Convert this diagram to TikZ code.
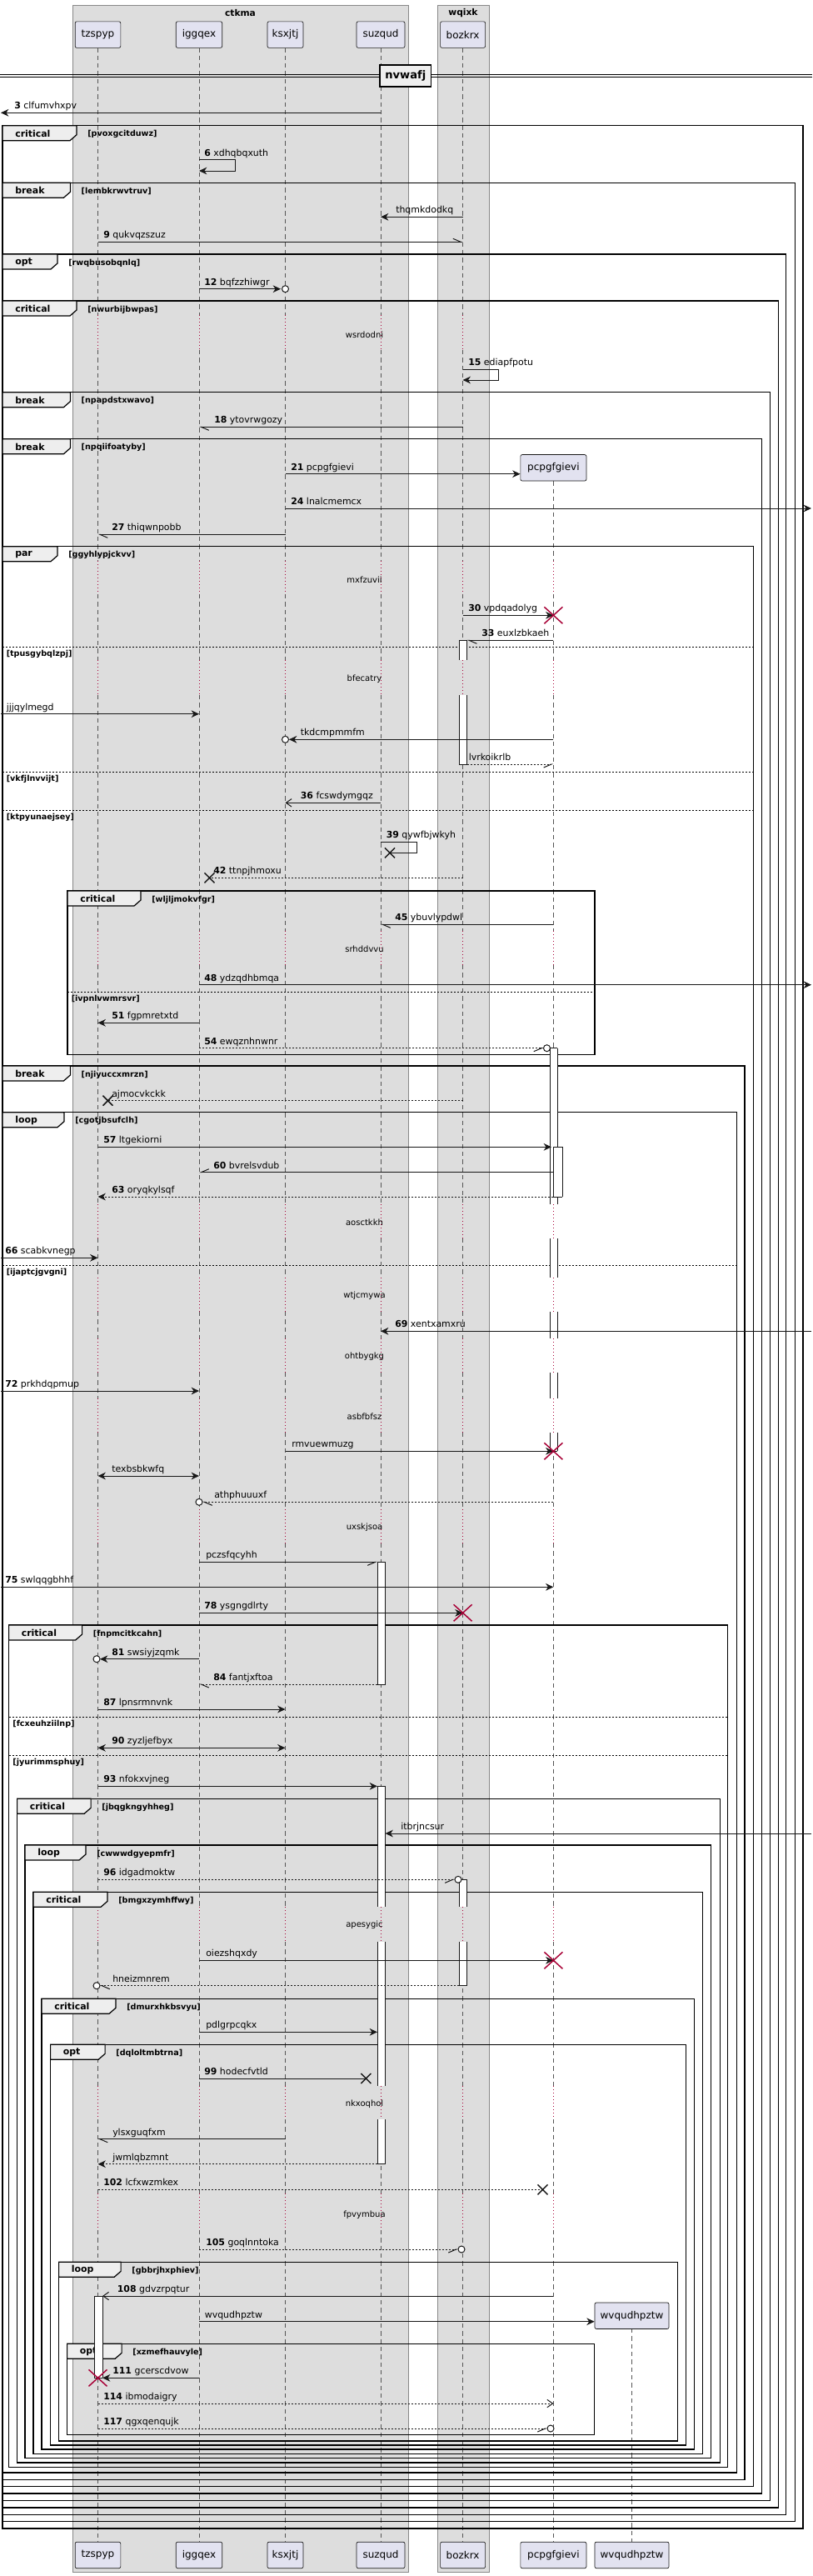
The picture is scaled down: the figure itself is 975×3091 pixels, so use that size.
\documentclass[tikz,border=0pt]{standalone}
\usepackage{fontspec}
\setmainfont{DejaVu Sans}
\usetikzlibrary{arrows.meta,calc}
\definecolor{partfill}{HTML}{E2E2F0}
\definecolor{partline}{HTML}{181818}
\definecolor{grpfill}{HTML}{DDDDDD}
\definecolor{grpline}{HTML}{888888}
\definecolor{tabfill}{HTML}{EEEEEE}
\definecolor{lifec}{HTML}{555555}
\definecolor{dred}{HTML}{A80036}
\definecolor{ink}{HTML}{181818}
\tikzset{
  grp/.style={fill=grpfill, draw=grpline, line width=0.5pt},
  grptitle/.style={font=\bfseries\fontsize{8}{9.6}\selectfont, inner sep=0},
  part/.style={fill=partfill, draw=partline, line width=0.5pt, rounded corners=1.5pt, minimum height=23.6pt, inner sep=0, font=\fontsize{9}{10.8}\selectfont},
  life/.style={draw=lifec, line width=0.5pt, dash pattern=on 4pt off 3pt},
  delayl/.style={draw=dred, line width=0.6pt, dash pattern=on 0.75pt off 2.25pt},
  frameline/.style={draw=black, line width=1.1pt},
  tabline/.style={fill=tabfill, draw=black, line width=0.9pt},
  tabtxt/.style={font=\bfseries\fontsize{8.2}{9.8}\selectfont, inner sep=0, anchor=west},
  guardtxt/.style={font=\bfseries\fontsize{7.2}{8.6}\selectfont, inner sep=0, anchor=west},
  sepline/.style={draw=black, line width=0.75pt, dash pattern=on 1.5pt off 1.5pt},
  ml/.style={draw=ink, line width=0.75pt},
  dl/.style={dash pattern=on 1.5pt off 1.5pt},
  mlab/.style={font=\fontsize{8.2}{9.8}\selectfont, inner sep=0, anchor=base west},
  dtxt/.style={font=\fontsize{7.5}{9}\selectfont, inner sep=0},
  actl/.style={draw=ink, line width=0.75pt},
  fa/.style={-{Stealth[length=7pt,width=6.5pt,inset=2.2pt]}},
  fab/.style={{Stealth[length=7pt,width=6.5pt,inset=2.2pt]}-{Stealth[length=7pt,width=6.5pt,inset=2.2pt]}},
  oa/.style={-{Straight Barb[length=5pt,width=7pt]}},
  hl/.style={-{Straight Barb[length=7pt,width=6pt,harpoon]}},
  hr/.style={-{Straight Barb[length=7pt,width=6pt,harpoon,swap]}},
  redx/.style={draw=dred, line width=1.1pt},
  blkx/.style={draw=ink, line width=1.1pt},
  circ/.style={draw=ink, line width=0.75pt, fill=white},
  divbox/.style={fill=tabfill, draw=black, line width=1.1pt, inner sep=0, minimum width=46pt, minimum height=19.7pt, font=\bfseries\fontsize{9.8}{11.8}\selectfont},
}
\newcommand\frm[8]{%
  \draw[frameline] (#2,#3) rectangle (#4,#5);
  \filldraw[tabline] (#2,#3) -- ({#2+#6},#3) -- ({#2+#6},{#3+11}) -- ({#2+#6-8},{#3+18}) -- (#2,{#3+18}) -- cycle;
  \node[tabtxt] (#1k) at ({#2+15},{#3+9.5}) {#7};
  \node[guardtxt] (#1g) at ({#2+#6+13},{#3+10.5}) {#8};
}
\newcommand\gsep[5]{%
  \draw[sepline] (#2,#4) -- (#3,#4);
  \node[guardtxt] (#1) at ({#2+4.5},{#4+8.5}) {#5};
}
\newcommand\ML[4]{\node[mlab] (#1) at (#2,{#3-4.5}) {#4};}
\newcommand\rX[2]{\draw[redx] ({#1-11},{#2-10}) -- ({#1+11},{#2+10}) ({#1-11},{#2+10}) -- ({#1+11},{#2-10});}
\newcommand\bX[2]{\draw[blkx] ({#1-6},{#2-6}) -- ({#1+6},{#2+6}) ({#1-6},{#2+6}) -- ({#1+6},{#2-6});}
\newcommand\cO[2]{\draw[circ] (#1,#2) circle[radius=4];}
\newcommand\act[4]{\fill[white] (#1,#3) rectangle (#2,#4); \draw[actl] (#1,#3) -- (#1,#4) (#2,#3) -- (#2,#4);}
\newcommand\actH[3]{\draw[actl] (#1,#3) -- (#2,#3);}
\newcommand\lifeA[1]{%
  \foreach \a/\b in {57.3/378,420/673,713/792,834/1117,1158/1445,1486/1533,1574/1606,1647/1678,1719/1811,1852/2288,2330/2503,2543/2632,2676/3050} {\draw[life] (#1|-0,\a) -- (#1|-0,\b);}
  \foreach \a/\b in {378/420,673/713,792/834,1117/1158,1445/1486,1533/1574,1606/1647,1678/1719,1811/1852,2288/2330,2503/2543,2632/2676} {\draw[delayl] (#1|-0,\a) -- (#1|-0,\b);}
}
\begin{document}
\begin{tikzpicture}[x=0.75pt,y=-0.75pt]
\useasboundingbox (0,0) rectangle (975,3091);
\fill[white] (0,0) rectangle (975,3091);
% groups
\draw[grp] (87,6) rectangle (490,3086);
\node[grptitle] (ctkma) at (288.5,15.3) {ctkma};
\draw[grp] (525,6) rectangle (587,3086);
\node[grptitle] (wqixk) at (556,15.3) {wqixk};
% coordinates
\coordinate (Lft) at (1,0);
\coordinate (Rgt) at (974,0);
\coordinate (aS1) at (453,0);
\coordinate (aS2) at (462.5,0);
\coordinate (aB1) at (551,0);
\coordinate (aB2) at (560.6,0);
\coordinate (aT2) at (123,0);
% participants
\node[part,minimum width=41pt] (tzspyp) at (117.5,41.6) {tzspyp};
\node[part,minimum width=41.6pt] (iggqex) at (239,41.6) {iggqex};
\node[part,minimum width=32.3pt] (ksxjtj) at (342.5,41.6) {ksxjtj};
\node[part,minimum width=43.5pt] (suzqud) at (457,41.6) {suzqud};
\node[part,minimum width=40.5pt] (bozkrx) at (555.6,41.6) {bozkrx};
% lifelines
\lifeA{tzspyp}
\lifeA{iggqex}
\lifeA{ksxjtj}
\lifeA{suzqud}
\lifeA{bozkrx}
\foreach \a/\b in {577.3/673,713/792,834/1117,1158/1445,1486/1533,1574/1606,1647/1678,1719/1811,1852/2288,2330/2503,2543/2632,2676/3050} {\draw[life] (664.4,\a) -- (664.4,\b);}
\foreach \a/\b in {673/713,792/834,1117/1158,1445/1486,1533/1574,1606/1647,1678/1719,1811/1852,2288/2330,2503/2543,2632/2676} {\draw[delayl] (664.4,\a) -- (664.4,\b);}
\draw[life] (758.5,2794) -- (758.5,3050);
% created participants
\node[part,minimum width=59.3pt] (pcpgfgievi) at (664.4,561.3) {pcpgfgievi};
\node[part,minimum width=66.8pt] (wvqudhpztw) at (758.5,2778.7) {wvqudhpztw};
% footers
\node[part,minimum width=41pt] (tzspypF) at (117.5,3065.9) {tzspyp};
\node[part,minimum width=41.6pt] (iggqexF) at (239,3065.9) {iggqex};
\node[part,minimum width=32.3pt] (ksxjtjF) at (342.5,3065.9) {ksxjtj};
\node[part,minimum width=43.5pt] (suzqudF) at (457,3065.9) {suzqud};
\node[part,minimum width=40.5pt] (bozkrxF) at (555.6,3065.9) {bozkrx};
\node[part,minimum width=59.3pt] (pcpgfgieviF) at (664.4,3065.9) {pcpgfgievi};
\node[part,minimum width=66.8pt] (wvqudhpztwF) at (758.5,3065.9) {wvqudhpztw};
% divider
\draw[line width=0.75pt] (0,89.3) -- (975,89.3) (0,92) -- (975,92);
\node[divbox] (nvwafj) at (486.8,90.9) {nvwafj};
% frames
\frm{F1}{3}{150.7}{964}{3034}{89}{critical}{[pvoxgcitduwz]}
\frm{F2}{3}{219.3}{954.4}{3025.6}{81.4}{break}{[lembkrwvtruv]}
\frm{F3}{3}{305}{943.75}{3017.2}{66}{opt}{[rwqbusobqnlq]}
\frm{F4}{3}{361}{934.4}{3008.8}{89}{critical}{[nwurbijbwpas]}
\frm{F5}{3}{470.7}{924.4}{3000.4}{81.4}{break}{[npapdstxwavo]}
\frm{F6}{3}{526.7}{914.4}{2992}{81.4}{break}{[npqiifoatyby]}
\frm{F7}{3}{655.7}{904.4}{2983.6}{66}{par}{[ggyhlypjckvv]}
\gsep{S7a}{3}{904.4}{776.7}{[tpusgybqlzpj]}
\gsep{S7b}{3}{904.4}{926}{[vkfjlnvvijt]}
\gsep{S7c}{3}{904.4}{972.3}{[ktpyunaejsey]}
\frm{F8}{81}{1069}{714}{1265.3}{88}{critical}{[wljljmokvfgr]}
\gsep{S8a}{81}{714}{1190.3}{[ivpnlvwmrsvr]}
\frm{F9}{3}{1279}{894}{2975.2}{81.4}{break}{[njiyuccxmrzn]}
\frm{F10}{3}{1334.7}{884.4}{2966.8}{74}{loop}{[cgotjbsufclh]}
\gsep{S10a}{3}{884.4}{1518.7}{[ijaptcjgvgni]}
\frm{F11}{10.6}{1950}{873.75}{2960.3}{88}{critical}{[fnpmcitkcahn]}
\gsep{S11a}{10.6}{873.75}{2060}{[fcxeuhziilnp]}
\gsep{S11b}{10.6}{873.75}{2106}{[jyurimmsphuy]}
\frm{F12}{20.6}{2158.3}{864.4}{2955}{88.5}{critical}{[jbqgkngyhheg]}
\frm{F13}{30}{2214}{853.75}{2949.7}{73}{loop}{[cwwwdgyepmfr]}
\frm{F14}{40}{2270.3}{843.75}{2944.3}{89}{critical}{[bmgxzymhffwy]}
\frm{F15}{50}{2398.3}{833.75}{2939}{89}{critical}{[dmurxhkbsvyu]}
\frm{F16}{60.6}{2453.3}{823.75}{2934}{65.5}{opt}{[dqloltmbtrna]}
\frm{F17}{70.6}{2714.3}{813.75}{2929}{74.5}{loop}{[gbbrjhxphiev]}
\frm{F18}{80.6}{2812.3}{713.75}{2921.7}{65.5}{opt}{[xzmefhauvyle]}
% delays
\node[dtxt] (d1) at (437.5,401.7) {wsrdodni};
\node[dtxt] (d2) at (437.5,696) {mxfzuvii};
\node[dtxt] (d3) at (437.5,814.3) {bfecatry};
\node[dtxt] (d4) at (437.5,1138.3) {srhddvvu};
\node[dtxt] (d5) at (437.5,1466.7) {aosctkkh};
\node[dtxt] (d6) at (437.5,1555) {wtjcmywa};
\node[dtxt] (d7) at (437.5,1627.7) {ohtbygkg};
\node[dtxt] (d8) at (437.5,1699.3) {asbfbfsz};
\node[dtxt] (d9) at (437.5,1832.7) {uxskjsoa};
\node[dtxt] (d10) at (437.5,2310) {apesygic};
\node[dtxt] (d11) at (437.5,2524.3) {nkxoqhol};
\node[dtxt] (d12) at (437.5,2657.7) {fpvymbua};
% activations
\act{551}{560.6}{768.3}{792} \actH{551}{560.6}{768.3}
\act{551}{560.6}{834}{917.3} \actH{551}{560.6}{917.3}
\act{660.6}{669.4}{1257.7}{1445} \actH{660.6}{669.4}{1257.7}
\act{660.6}{669.4}{1486}{1533}
\act{660.6}{669.4}{1574}{1606}
\act{660.6}{669.4}{1647}{1678}
\act{660.6}{669.4}{1719}{1741.3} \actH{660.6}{669.4}{1741.3}
\act{664.4}{675}{1376.3}{1436} \actH{664.4}{675}{1376.3} \actH{664.4}{675}{1436}
\act{453}{462.5}{1874.3}{2021} \actH{453}{462.5}{1874.3} \actH{453}{462.5}{2021}
\act{453}{462.5}{2143.3}{2288} \actH{453}{462.5}{2143.3}
\act{453}{462.5}{2330}{2503}
\act{453}{462.5}{2543}{2596.7} \actH{453}{462.5}{2596.7}
\act{551}{560.6}{2255.3}{2288} \actH{551}{560.6}{2255.3}
\act{551}{560.6}{2330}{2382.7} \actH{551}{560.6}{2382.7}
\act{113}{123}{2755}{2853.3} \actH{113}{123}{2755} \actH{113}{123}{2853.3}
% messages
\draw[ml,fa] (suzqud|-0,135.3) -- (Lft|-0,135.3); \ML{l3}{17}{135.3}{\textbf{3} clfumvhxpv}
\draw[ml,fa] (iggqex|-0,191.7) -- (282.5,191.7) -- (282.5,205) -- (iggqex|-0,205); \ML{l6}{245}{191.7}{\textbf{6} xdhqbqxuth}
\draw[ml,fa] (bozkrx|-0,260.3) -- (suzqud|-0,260.3); \ML{lthq}{475}{260.3}{thqmkdodkq}
\draw[ml,hl] (tzspyp|-0,290.3) -- (bozkrx|-0,290.3); \ML{l9}{124}{290.3}{\textbf{9} qukvqzszuz}
\draw[ml,fa] (iggqex|-0,346.7) -- (337,346.7); \cO{342.5}{346.7} \ML{l12}{245}{346.7}{\textbf{12} bqfzzhiwgr}
\draw[ml,fa] (bozkrx|-0,443.3) -- (598,443.3) -- (598,456) -- (bozkrx|-0,456); \ML{l15}{562}{443.3}{\textbf{15} ediapfpotu}
\draw[ml,hl] (bozkrx|-0,512.3) -- (iggqex|-0,512.3); \ML{l18}{257}{512.3}{\textbf{18} ytovrwgozy}
\draw[ml,fa] (ksxjtj|-0,568.7) -- (pcpgfgievi.west|-0,568.7); \ML{l21}{349}{568.7}{\textbf{21} pcpgfgievi}
\draw[ml,fa] (ksxjtj|-0,610) -- (Rgt|-0,610); \ML{l24}{349}{610}{\textbf{24} lnalcmemcx}
\draw[ml,hl] (ksxjtj|-0,641.3) -- (tzspyp|-0,641.3); \ML{l27}{134}{641.3}{\textbf{27} thiqwnpobb}
\draw[ml,fa] (bozkrx|-0,738.3) -- (pcpgfgievi|-0,738.3); \rX{664.4}{738.3} \ML{l30}{562}{738.3}{\textbf{30} vpdqadolyg}
\draw[ml,hl] (pcpgfgievi|-0,768.3) -- (aB2|-0,768.3); \ML{l33}{578}{768.3}{\textbf{33} euxlzbkaeh}
\draw[ml,fa] (Lft|-0,856.7) -- (iggqex|-0,856.7); \ML{ljjj}{7.5}{856.7}{jjjqylmegd}
\draw[ml,fa] (pcpgfgievi|-0,887.3) -- (347,887.3); \cO{342.5}{887.3} \ML{ltkd}{360.6}{887.3}{tkdcmpmmfm}
\draw[ml,dl,hr] (aB2|-0,917) -- (pcpgfgievi|-0,917); \ML{llvr}{562.5}{917}{lvrkoikrlb}
\draw[ml,oa] (suzqud|-0,963.3) -- (ksxjtj|-0,963.3); \ML{l36}{360.6}{963.3}{\textbf{36} fcswdymgqz}
\draw[ml] (suzqud|-0,1010) -- (500,1010) -- (500,1023.3) -- (468,1023.3); \bX{468}{1023.3} \ML{l39}{463.5}{1010}{\textbf{39} qywfbjwkyh}
\draw[ml,dl] (bozkrx|-0,1053.3) -- (251.5,1053.3); \bX{251.5}{1053.3} \ML{l42}{256}{1053.3}{\textbf{42} ttnpjhmoxu}
\draw[ml,hl] (pcpgfgievi|-0,1109.3) -- (suzqud|-0,1109.3); \ML{l45}{474}{1109.3}{\textbf{45} ybuvlypdwl}
\draw[ml,fa] (iggqex|-0,1181.7) -- (Rgt|-0,1181.7); \ML{l48}{245}{1181.7}{\textbf{48} ydzqdhbmqa}
\draw[ml,fa] (iggqex|-0,1227.3) -- (tzspyp|-0,1227.3); \ML{l51}{134}{1227.3}{\textbf{51} fgpmretxtd}
\draw[ml,dl,hr] (iggqex|-0,1257.7) -- (652.5,1257.7); \cO{656.5}{1257.7} \ML{l54}{245}{1257.7}{\textbf{54} ewqznhnwnr}
\draw[ml,dl] (bozkrx|-0,1320.7) -- (129.5,1320.7); \bX{129.5}{1320.7} \ML{lajm}{134}{1320.7}{ajmocvkckk}
\draw[ml,fa] (tzspyp|-0,1376.3) -- (662,1376.3); \ML{l57}{124}{1376.3}{\textbf{57} ltgekiorni}
\draw[ml,hr] (pcpgfgievi|-0,1406.7) -- (iggqex|-0,1406.7); \ML{l60}{256}{1406.7}{\textbf{60} bvrelsvdub}
\draw[ml,dl,fa] (pcpgfgievi|-0,1436) -- (tzspyp|-0,1436); \ML{l63}{134}{1436}{\textbf{63} oryqkylsqf}
\draw[ml,fa] (Lft|-0,1509.3) -- (tzspyp|-0,1509.3); \ML{l66}{6}{1509.3}{\textbf{66} scabkvnegp}
\draw[ml,fa] (Rgt|-0,1597.3) -- (suzqud|-0,1597.3); \ML{l69}{474}{1597.3}{\textbf{69} xentxamxru}
\draw[ml,fa] (Lft|-0,1669) -- (iggqex|-0,1669); \ML{l72}{6}{1669}{\textbf{72} prkhdqpmup}
\draw[ml,fa] (ksxjtj|-0,1741.3) -- (pcpgfgievi|-0,1741.3); \rX{664.4}{1741.3} \ML{lrmv}{350}{1741.3}{rmvuewmuzg}
\draw[ml,fab] (tzspyp|-0,1771) -- (iggqex|-0,1771); \ML{ltex}{134}{1771}{texbsbkwfq}
\draw[ml,dl,hl] (pcpgfgievi|-0,1802.3) -- (243,1802.3); \cO{239}{1802.3} \ML{lath}{257}{1802.3}{athphuuuxf}
\draw[ml,hr] (iggqex|-0,1874.3) -- (aS1|-0,1874.3); \ML{lpcz}{247}{1874.3}{pczsfqcyhh}
\draw[ml,fa] (Lft|-0,1904.3) -- (pcpgfgievi|-0,1904.3); \ML{l75}{6}{1904.3}{\textbf{75} swlqqgbhhf}
\draw[ml,fa] (iggqex|-0,1935.3) -- (bozkrx|-0,1935.3); \rX{555.6}{1935.3} \ML{l78}{245}{1935.3}{\textbf{78} ysgngdlrty}
\draw[ml,fa] (iggqex|-0,1990.7) -- (120,1990.7); \cO{116}{1990.7} \ML{l81}{134}{1990.7}{\textbf{81} swsiyjzqmk}
\draw[ml,dl,hl] (aS1|-0,2021) -- (iggqex|-0,2021); \ML{l84}{256}{2021}{\textbf{84} fantjxftoa}
\draw[ml,fa] (tzspyp|-0,2051) -- (ksxjtj|-0,2051); \ML{l87}{124}{2051}{\textbf{87} lpnsrmnvnk}
\draw[ml,fab] (tzspyp|-0,2097.3) -- (ksxjtj|-0,2097.3); \ML{l90}{134}{2097.3}{\textbf{90} zyzljefbyx}
\draw[ml,fa] (tzspyp|-0,2143.3) -- (aS1|-0,2143.3); \ML{l93}{124}{2143.3}{\textbf{93} nfokxvjneg}
\draw[ml,fa] (Rgt|-0,2200) -- (aS2|-0,2200); \ML{litb}{481}{2200}{itbrjncsur}
\draw[ml,dl,hr] (tzspyp|-0,2255.3) -- (546,2255.3); \cO{550}{2255.3} \ML{l96}{124}{2255.3}{\textbf{96} idgadmoktw}
\draw[ml,fa] (iggqex|-0,2352.3) -- (pcpgfgievi|-0,2352.3); \rX{664.4}{2352.3} \ML{loie}{247}{2352.3}{oiezshqxdy}
\draw[ml,dl,hl] (aB1|-0,2382.7) -- (120,2382.7); \cO{116}{2382.7} \ML{lhne}{135}{2382.7}{hneizmnrem}
\draw[ml,fa] (iggqex|-0,2438.3) -- (aS1|-0,2438.3); \ML{lpdl}{247}{2438.3}{pdlgrpcqkx}
\draw[ml] (iggqex|-0,2494) -- (439.4,2494); \bX{439.4}{2494} \ML{l99}{245}{2494}{\textbf{99} hodecfvtld}
\draw[ml,hl] (ksxjtj|-0,2566.7) -- (tzspyp|-0,2566.7); \ML{lyls}{135}{2566.7}{ylsxguqfxm}
\draw[ml,dl,fa] (aS1|-0,2596.7) -- (tzspyp|-0,2596.7); \ML{ljwm}{135}{2596.7}{jwmlqbzmnt}
\draw[ml,dl] (tzspyp|-0,2627.3) -- (651.5,2627.3); \bX{651.5}{2627.3} \ML{l102}{124}{2627.3}{\textbf{102} lcfxwzmkex}
\draw[ml,dl,hr] (iggqex|-0,2699) -- (550,2699); \cO{554}{2699} \ML{l105}{247}{2699}{\textbf{105} goqlnntoka}
\draw[ml,oa] (pcpgfgievi|-0,2755) -- (aT2|-0,2755); \ML{l108}{140.6}{2755}{\textbf{108} gdvzrpqtur}
\draw[ml,fa] (iggqex|-0,2785.7) -- (wvqudhpztw.west|-0,2785.7); \ML{lwvq}{245.6}{2785.7}{wvqudhpztw}
\draw[ml,fa] (iggqex|-0,2853.3) -- (aT2|-0,2853.3); \rX{117.5}{2853.3} \ML{l111}{135}{2853.3}{\textbf{111} gcerscdvow}
\draw[ml,dl,oa] (tzspyp|-0,2884) -- (pcpgfgievi|-0,2884); \ML{l114}{124}{2884}{\textbf{114} ibmodaigry}
\draw[ml,dl,hr] (tzspyp|-0,2914) -- (657,2914); \cO{661}{2914} \ML{l117}{124}{2914}{\textbf{117} qgxqenqujk}
\end{tikzpicture}
\end{document}
